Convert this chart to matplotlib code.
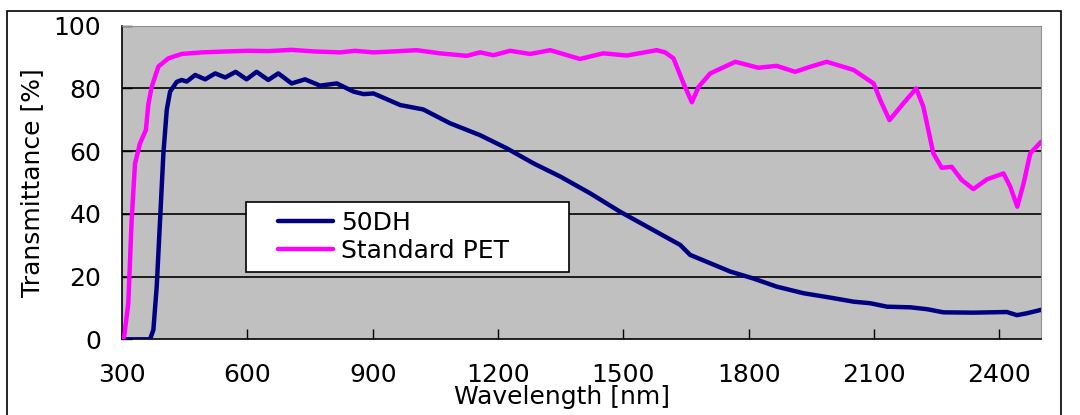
import matplotlib
matplotlib.use("Agg")
import matplotlib.pyplot as plt
from matplotlib.lines import Line2D
from matplotlib.legend_handler import HandlerLine2D
from matplotlib.patches import Rectangle


# ---------- dados ----------
wl_50dh = [300, 367, 375, 383, 391, 399, 407, 415, 431, 443, 455, 475, 499, 523,
           547, 572, 598, 622, 650, 674, 706, 738, 774, 814, 854, 878, 902, 966,
           1021, 1085, 1157, 1221, 1285, 1349, 1420, 1492, 1564, 1636, 1660, 1700,
           1756, 1811, 1867, 1931, 1995, 2051, 2091, 2131, 2187, 2227, 2266, 2338,
           2418, 2442, 2466, 2500]
t_50dh = [0, 0, 3, 16.8, 38, 59.3, 73.1, 79, 82.1, 82.7, 82.2, 84.3, 82.9, 84.8,
          83.5, 85.3, 82.9, 85.3, 82.7, 84.8, 81.6, 82.9, 80.9, 81.6, 79, 78.2, 78.4, 74.7,
          73.3, 68.9, 65.1, 60.9, 56.1, 51.9, 46.6, 40.7, 35.4, 30.1, 26.9, 24.7,
          21.6, 19.4, 16.8, 14.7, 13.3, 12, 11.5, 10.4, 10.2, 9.6, 8.6, 8.5,
          8.7, 7.7, 8.3, 9.4]

wl_pet = [300, 305, 315, 323, 331, 343, 357, 363, 371, 387, 411, 443, 491, 550,
          602, 650, 706, 760, 822, 858, 902, 950, 1005, 1061, 1125, 1157, 1189, 1229,
          1277, 1325, 1396, 1452, 1508, 1580, 1600, 1620, 1644, 1664, 1680, 1708, 1768,
          1823, 1867, 1911, 1947, 1987, 2051, 2099, 2115, 2137, 2170, 2201, 2218,
          2242, 2262, 2286, 2310, 2338, 2370, 2410, 2426, 2443, 2458, 2474, 2500]
t_pet = [0, 0.8, 11.5, 38, 56, 62.5, 66.7, 75, 80.5, 87, 89.6, 91, 91.5, 91.8,
         92, 91.9, 92.3, 91.8, 91.5, 92, 91.5, 91.8, 92.2, 91.2, 90.4, 91.5, 90.6, 92,
         91, 92.2, 89.4, 91.2, 90.5, 92.2, 91.5, 89.6, 81.6, 75.6, 80.5, 84.8, 88.5,
         86.6, 87.2, 85.3, 86.9, 88.5, 85.9, 81.6, 76.3, 69.9, 75.2, 80, 74.2,
         59.3, 54.7, 55, 50.8, 47.9, 51, 52.9, 48.7, 42.3, 49.7, 59.3, 63]

x_ticks = [300, 600, 900, 1200, 1500, 1800, 2100, 2400]
y_ticks = [0, 20, 40, 60, 80, 100]
nomes = ["50DH", "Standard PET"]
cores = ["#000080", "#FF00FF"]


# ---------- figura ----------
plt.rcParams["font.family"] = ["DejaVu Sans"]
FS = 18

fig = plt.figure(figsize=(10.8, 4.15), dpi=100)
ax = fig.add_axes([0.113, 0.1824, 0.851, 0.7556])
ax.set_facecolor("#C0C0C0")

# moldura externa
fig.patches.append(Rectangle((0.0065, -0.05), 0.9755, 1.0235, transform=fig.transFigure,
                             fill=False, edgecolor="black", linewidth=1.2, clip_on=False))

for y in y_ticks[1:-1]:
    ax.axhline(y, color="black", linewidth=1.2, zorder=1)

ax.plot(wl_50dh, t_50dh, color=cores[0], linewidth=3.2, label=nomes[0],
        solid_joinstyle="round", solid_capstyle="round", zorder=3)
ax.plot(wl_pet, t_pet, color=cores[1], linewidth=3.2, label=nomes[1],
        solid_joinstyle="round", solid_capstyle="round", zorder=3)

ax.set_xlim(300, 2500)
ax.set_ylim(0, 100)
ax.set_xticks(x_ticks)
ax.set_yticks(y_ticks)
ax.tick_params(axis="x", direction="in", length=7, width=1, labelsize=FS, pad=17)
ax.tick_params(axis="y", direction="in", length=7, width=1, labelsize=FS, pad=15)

for lado in ["top", "right"]:
    ax.spines[lado].set_color("#909090")
for lado in ["left", "bottom"]:
    ax.spines[lado].set_color("black")
    ax.spines[lado].set_linewidth(1.2)

ax.set_xlabel("Wavelength [nm]", fontsize=FS)
ax.xaxis.set_label_coords(0.479, -0.147)
ax.set_ylabel("Transmittance [%]", fontsize=FS)
ax.yaxis.set_label_coords(-0.085, 0.5)

leg = ax.legend(loc="upper left", bbox_to_anchor=(0.135, 0.183, 0.351, 0.255),
                mode="expand", borderaxespad=0, fontsize=FS, frameon=True,
                fancybox=False, edgecolor="black", framealpha=1, borderpad=0.35,
                handlelength=3.12, handletextpad=0.32, labelspacing=0.18,
                handler_map={Line2D: HandlerLine2D(xpad=0.92)})
leg.get_frame().set_linewidth(1.2)
leg.set_zorder(5)

fig.savefig("out.png", dpi=100)
